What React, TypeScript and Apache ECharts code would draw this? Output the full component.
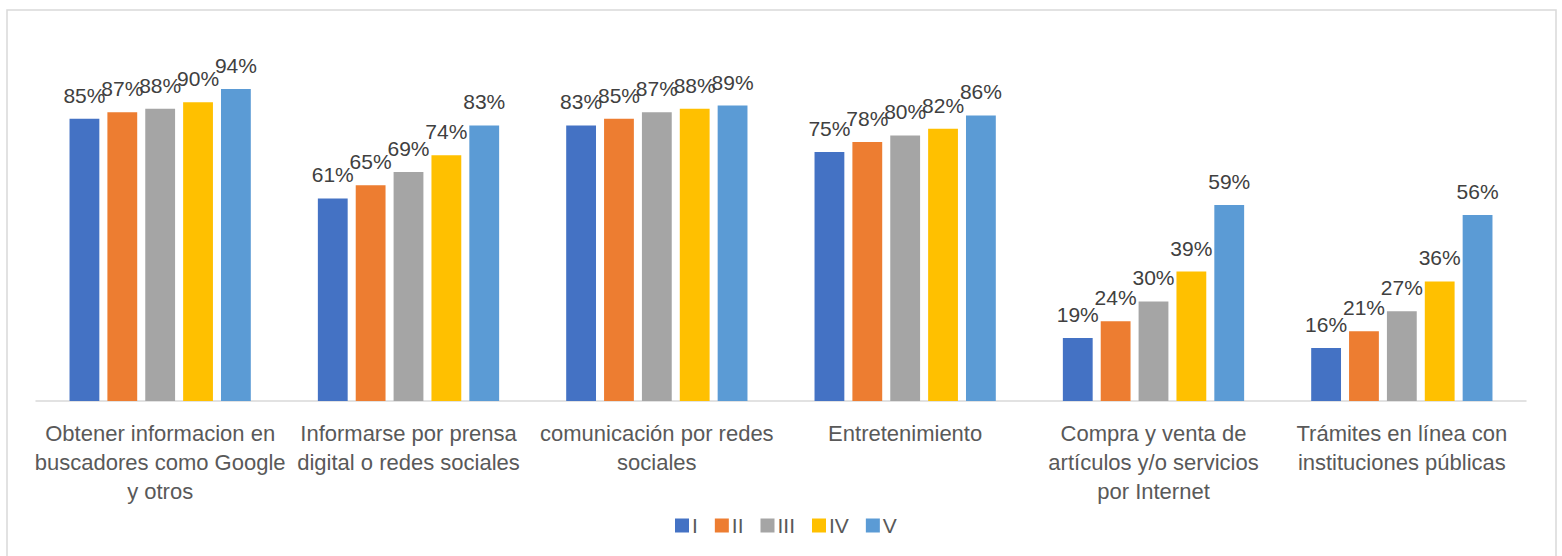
import React, { useEffect, useRef } from "react";
import * as echarts from "echarts";

const categories = [
  "Obtener informacion en\nbuscadores como Google\ny otros",
  "Informarse por prensa\ndigital o redes sociales",
  "comunicación por redes\nsociales",
  "Entretenimiento",
  "Compra y venta de\nartículos y/o servicios\npor Internet",
  "Trámites en línea con\ninstituciones públicas",
];
const seriesNames = ["I", "II", "III", "IV", "V"];
const valuesI = [85, 61, 83, 75, 19, 16];
const valuesII = [87, 65, 85, 78, 24, 21];
const valuesIII = [88, 69, 87, 80, 30, 27];
const valuesIV = [90, 74, 88, 82, 39, 36];
const valuesV = [94, 83, 89, 86, 59, 56];
const colors = ["#4472C4", "#ED7D31", "#A5A5A5", "#FFC000", "#5B9BD5"];

const FONT = "'Liberation Sans', 'Noto Sans', sans-serif";

export default function App() {
  const ref = useRef<HTMLDivElement>(null);
  useEffect(() => {
    if (!ref.current) return;
    const chart = echarts.init(ref.current, undefined, { renderer: "svg" });
    const all = [valuesI, valuesII, valuesIII, valuesIV, valuesV];
    chart.setOption({
      animation: false,
      textStyle: { fontFamily: FONT },
      graphic: [
        {
          type: "rect",
          shape: { x: 7, y: 10, width: 1549, height: 560 },
          style: { fill: "none", stroke: "#D9D9D9", lineWidth: 1.5 },
          silent: true,
        },
      ],
      grid: { left: 36, right: 36, top: 69, bottom: 155 },
      legend: {
        data: seriesNames,
        top: 510,
        left: 670,
        itemWidth: 14,
        itemHeight: 14,
        itemGap: 17,
        icon: "rect",
        textStyle: { fontSize: 21, color: "#595959", fontFamily: FONT, padding: [0, 0, 0, -2] },
      },
      xAxis: {
        type: "category",
        data: categories,
        axisLine: { lineStyle: { color: "#D9D9D9", width: 1.5 } },
        axisTick: { show: false },
        axisLabel: {
          interval: 0,
          fontSize: 22,
          lineHeight: 29,
          color: "#595959",
          margin: 18,
          fontFamily: FONT,
        },
      },
      yAxis: {
        type: "value",
        min: 0,
        max: 100,
        show: false,
        splitLine: { show: false },
      },
      series: seriesNames.map((name, i) => ({
        name,
        type: "bar",
        data: all[i],
        barGap: "27%",
        barCategoryGap: "27%",
        itemStyle: { color: colors[i] },
        label: {
          show: true,
          position: "top",
          distance: 13,
          formatter: "{c}%",
          fontSize: 21,
          color: "#404040",
          fontFamily: FONT,
        },
      })),
    });
    return () => chart.dispose();
  }, []);
  return (
    <div
      ref={ref}
      style={{ position: "absolute", left: 0, top: 0, width: 1562, height: 556, background: "#fff" }}
    />
  );
}
